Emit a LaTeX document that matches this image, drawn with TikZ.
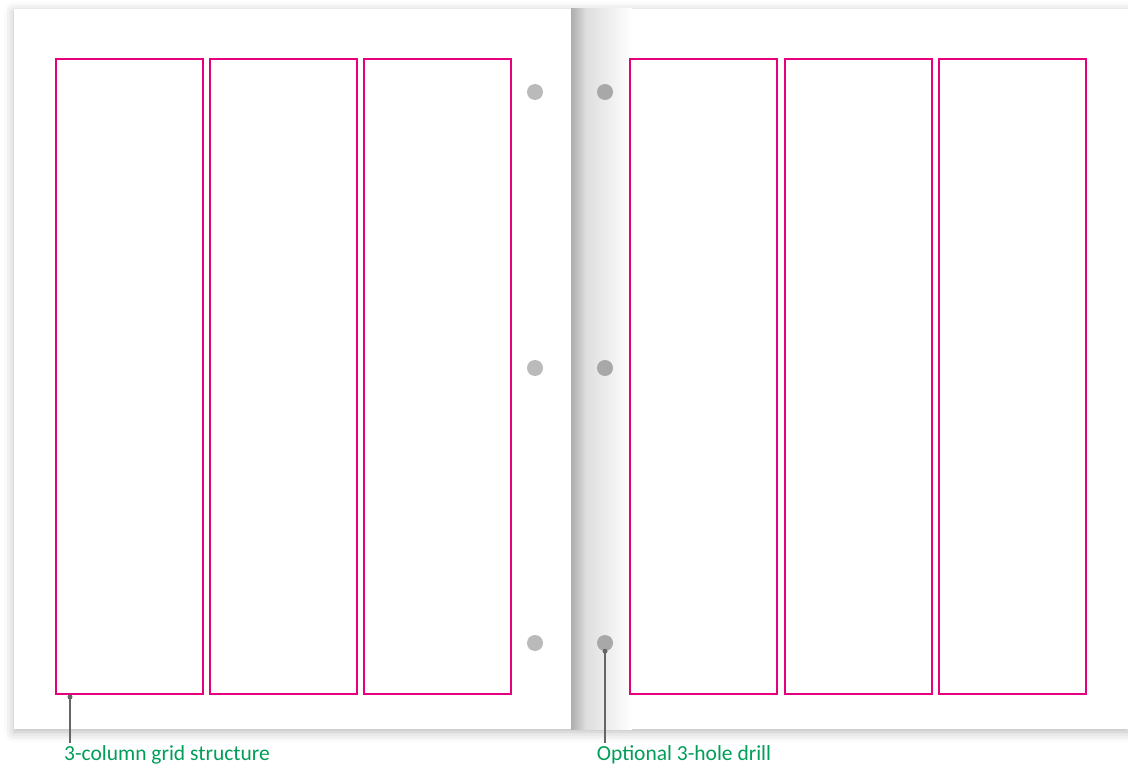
\documentclass[tikz,border=0pt]{standalone}
\usepackage{fontspec}
\setmainfont{Carlito}
\usetikzlibrary{shadows.blur}
\definecolor{grille}{RGB}{230,0,126}
\definecolor{legende}{RGB}{0,158,88}
\tikzset{
  colonne/.style={draw=grille, line width=1.2pt},
  trou/.style={circle, fill=black!27, minimum size=16pt, inner sep=0pt},
  fil/.style={draw=black!60, line width=1.1pt},
  texte/.style={text=legende, font=\fontsize{21.5}{24}\selectfont, inner sep=2pt}
}
\begin{document}
\begin{tikzpicture}[x=1pt, y=-1pt]
\useasboundingbox (0,0) rectangle (1128,767);

% Paramètres
\def\haut{59}
\def\bas{694}
\def\larg{147}

% Pages (avec ombre)
\fill[white, blur shadow={shadow xshift=0pt, shadow yshift=-3pt, shadow blur radius=10pt, shadow opacity=28}]
  (14,9) rectangle (1128,729);

% Ombre du pli
\shade[left color=black!32, right color=black!13] (571,9) rectangle (586,729);
\shade[left color=black!13, right color=white] (585.5,9) rectangle (632,729);

% Colonnes
\foreach \x in {56,210,364,630,785,939}
  \draw[colonne] (\x,\haut) rectangle ++(\larg,\bas-\haut);

% Trous
\foreach \y [count=\i] in {92,368,643} {
  \node[trou] (g\i) at (535,\y) {};
  \node[trou, fill=black!34] (d\i) at (605,\y) {};
}

% Légendes
\node[texte, anchor=base] (lgrille) at (167,760) {3-column grid structure};
\node[texte, anchor=base] (ltrou) at (684,760) {Optional 3-hole drill};

\coordinate (pg) at (70,697);
\fill[black!60] (pg) circle (2.5);
\draw[fil] (pg) -- (pg |- lgrille.north);
\fill[black!60] (d3.south) circle (2.5);
\draw[fil] (d3.south) -- (d3.south |- ltrou.north);
\end{tikzpicture}
\end{document}
